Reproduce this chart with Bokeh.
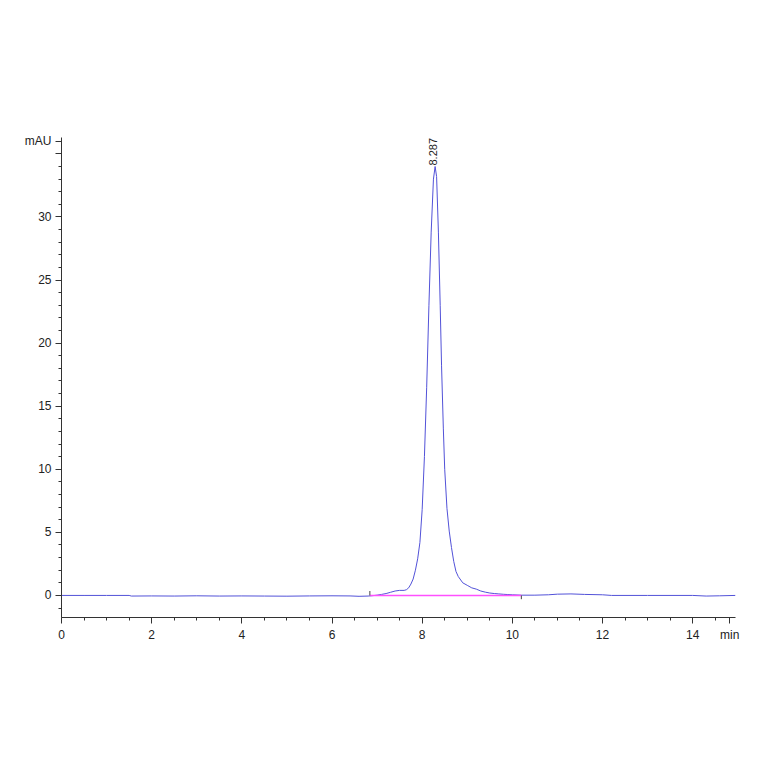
import numpy as np
from bokeh.plotting import figure
from bokeh.models import FixedTicker, Range1d, Label
from bokeh.embed import file_html
from bokeh.resources import INLINE

# chromatogram trace (time in min, signal in mAU)
time_min = [0.0, 0.5, 1.0, 1.5, 1.55, 2.0, 2.5, 3.0, 3.5, 4.0, 4.5, 5.0, 5.5, 6.0,
            6.4, 6.6, 6.8, 6.9, 7.0, 7.1, 7.2, 7.3, 7.4, 7.5, 7.6, 7.65, 7.7, 7.75,
            7.8, 7.85, 7.9, 7.95, 8.0, 8.05, 8.1, 8.15, 8.2, 8.25, 8.287, 8.32, 8.36,
            8.4, 8.43, 8.47, 8.5, 8.55, 8.6, 8.65, 8.7, 8.75, 8.8, 8.9, 9.0, 9.1, 9.2,
            9.3, 9.4, 9.5, 9.6, 9.7, 9.8, 9.9, 10.0, 10.2, 10.5, 10.8, 11.0, 11.3,
            11.6, 12.0, 12.2, 13.0, 14.0, 14.3, 14.6, 14.95]
signal_mau = [0.0, 0.0, 0.0, 0.0, -0.05, -0.04, -0.05, -0.03, -0.05, -0.04, -0.05, -0.06, -0.04, -0.03,
              -0.04, -0.07, -0.05, -0.02, 0.02, 0.08, 0.15, 0.25, 0.35, 0.40, 0.40, 0.45, 0.6, 0.9,
              1.3, 2.0, 2.9, 4.2, 6.8, 11.0, 16.5, 23.0, 28.8, 33.0, 34.0, 33.2, 28.8,
              23.0, 18.2, 13.2, 10.0, 6.9, 5.1, 3.8, 2.7, 1.9, 1.5, 1.0, 0.8, 0.6, 0.5,
              0.35, 0.26, 0.19, 0.15, 0.12, 0.09, 0.07, 0.05, 0.02, 0.02, 0.05, 0.1, 0.12,
              0.08, 0.05, 0.0, 0.0, 0.0, -0.05, -0.03, 0.0]

# integration baseline and its start/end markers
baseline_t = [6.84, 10.2]
baseline_v = [0.0, 0.0]
marker_t = [6.84, 10.2]
marker_lo = [0.0, -0.3]
marker_hi = [0.35, 0.0]

# peak annotation
peak_time = 8.287
peak_height = 34.0
peak_label = "8.287"

# axis ticks and unit labels
x_major = [0, 2, 4, 6, 8, 10, 12, 14]
y_major = [0, 5, 10, 15, 20, 25, 30, 35]
x_unit = "min"
x_unit_pos = 14.82
y_unit = "mAU"
y_unit_pos = 36

FONT = "Liberation Sans"

p = figure(width=748, height=748, output_backend="svg", toolbar_location=None,
           x_range=Range1d(0, 14.95), y_range=Range1d(-1.75, 36.3),
           min_border_left=61, min_border_right=13, min_border_top=137,
           min_border_bottom=131)
p.outline_line_color = None
p.xgrid.visible = False
p.ygrid.visible = False
p.background_fill_color = "white"

p.line(time_min, signal_mau, color="#5252d8", line_width=1.0)
p.line(baseline_t, baseline_v, color="#ff50ff", line_width=1.5)
p.segment(x0=marker_t, y0=marker_lo, x1=marker_t, y1=marker_hi, color="#444444", line_width=1)

xa = p.xaxis[0]
xa.ticker = FixedTicker(ticks=x_major + [x_unit_pos], minor_ticks=list(np.arange(0, 15.0, 0.5)))
xa.major_label_overrides = {x_unit_pos: x_unit}
ya = p.yaxis[0]
ya.ticker = FixedTicker(ticks=y_major + [y_unit_pos], minor_ticks=list(range(-1, 37)))
ya.major_label_overrides = {35: "", y_unit_pos: y_unit}
for ax in (xa, ya):
    ax.axis_line_color = "#333333"
    ax.major_tick_line_color = "#333333"
    ax.minor_tick_line_color = "#333333"
    ax.major_tick_out = 6
    ax.major_tick_in = 0
    ax.minor_tick_out = 3
    ax.minor_tick_in = 0
    ax.major_label_text_font = FONT
    ax.major_label_text_font_size = "12px"
    ax.major_label_text_color = "#222222"
    ax.major_label_standoff = 4

p.add_layout(Label(x=peak_time, y=peak_height, text=peak_label, angle=np.pi / 2,
                   x_offset=-2, y_offset=1, text_align="left", text_baseline="middle",
                   text_font=FONT, text_font_size="11px", text_color="#222222"))

open("out.html", "w").write(file_html(p, INLINE))
